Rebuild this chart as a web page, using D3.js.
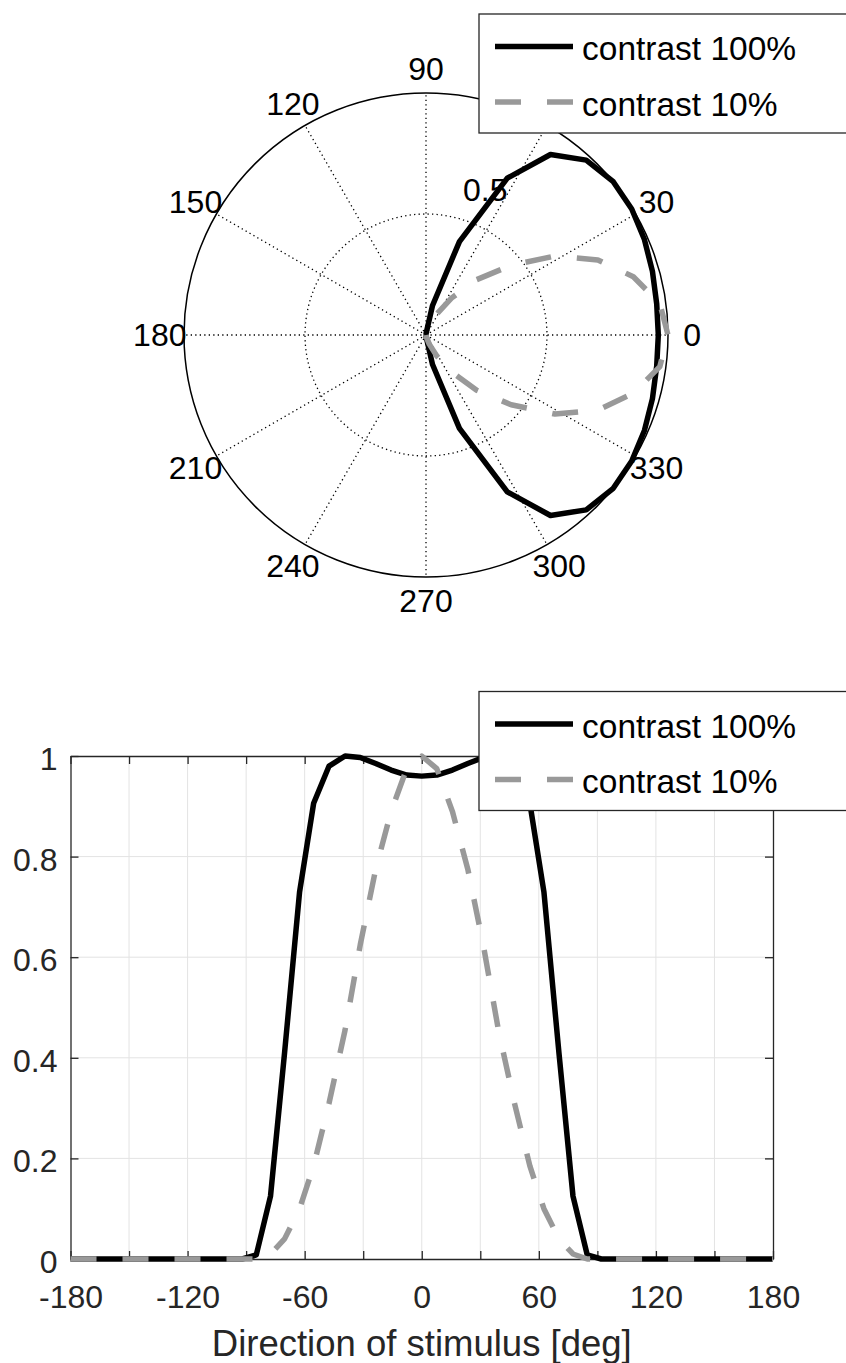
<!DOCTYPE html>
<html lang="en">
<head>
    <meta charset="UTF-8">
    <title>Direction tuning</title>
    <script src="https://d3js.org/d3.v7.min.js"></script>
    <style>
        body {
            margin: 0;
            background: #fff;
            font-family: "Liberation Sans", Arial, sans-serif;
        }

        .spoke, .ring {
            fill: none;
            stroke: #000;
            stroke-width: 1.3px;
            stroke-dasharray: 1.3, 3.2;
        }

        .outer-ring {
            fill: none;
            stroke: #000;
            stroke-width: 1.5px;
        }

        .polar-label {
            font-size: 32px;
            fill: #000;
        }

        .grid line {
            stroke: #e3e3e3;
            stroke-width: 1px;
        }

        .axis path, .axis line {
            stroke: #262626;
            stroke-width: 1.3px;
        }

        .axis text {
            font-size: 32px;
            fill: #262626;
        }

        .series {
            fill: none;
            stroke-width: 5.5px;
            stroke-linejoin: round;
        }

        .legend-box {
            fill: #fff;
            stroke: #262626;
            stroke-width: 1.3px;
        }

        .legend-text {
            font-size: 33.5px;
            fill: #000;
        }
    </style>
</head>
<body>
    <svg id="chart" width="846" height="1363"></svg>

    <script>
        // stimulus directions (deg) and normalized responses
        const angles = [-180, -92, -84.8, -77.5, -70.3, -62.6, -55.4, -47.5, -39.3, -31.5, -23.6, -15.7, -7.7, 0,
                        7.7, 15.7, 23.6, 31.5, 39.3, 47.5, 55.4, 62.6, 70.3, 77.5, 84.8, 92, 180];
        const contrast100 = [0, 0, 0.008, 0.125, 0.41, 0.73, 0.906, 0.98, 1.0, 0.997, 0.985, 0.972, 0.962, 0.96,
                             0.962, 0.972, 0.985, 0.997, 1.0, 0.98, 0.906, 0.73, 0.41, 0.125, 0.008, 0, 0];
        const contrast10 = [0, 0, 0, 0.01, 0.04, 0.1, 0.185, 0.31, 0.455, 0.625, 0.775, 0.89, 0.975, 1.0,
                            0.975, 0.89, 0.775, 0.625, 0.455, 0.31, 0.185, 0.1, 0.04, 0.01, 0, 0, 0];

        const seriesNames = ['contrast 100%', 'contrast 10%'];
        const seriesColors = ['#000000', '#999999'];
        const seriesDash = [null, '26,26'];

        const polarAngles = [0, 30, 60, 90, 120, 150, 180, 210, 240, 270, 300, 330];
        const polarRings = [0.5, 1];
        const xTicks = [-180, -150, -120, -90, -60, -30, 0, 30, 60, 90, 120, 150, 180];
        const yTicks = [0, 0.2, 0.4, 0.6, 0.8, 1];

        const series = [contrast100, contrast10].map((vals, i) => ({
            name: seriesNames[i],
            color: seriesColors[i],
            dash: seriesDash[i],
            points: angles.map((a, j) => ({ deg: a, v: vals[j] }))
        }));

        const svg = d3.select('#chart');
        const rad = Math.PI / 180;

        // ---------- polar plot ----------
        const cx = 426, cy = 335, R = 242;
        const r = d3.scaleLinear().domain([0, 1]).range([0, R]);
        const polar = svg.append('g').attr('transform', `translate(${cx},${cy})`);

        polar.selectAll('.spoke')
            .data(polarAngles)
            .enter().append('line')
            .attr('class', 'spoke')
            .attr('x1', 0).attr('y1', 0)
            .attr('x2', d => r(1) * Math.cos(d * rad))
            .attr('y2', d => -r(1) * Math.sin(d * rad));

        polar.selectAll('.ring')
            .data(polarRings)
            .enter().append('circle')
            .attr('class', d => d === 1 ? 'outer-ring' : 'ring')
            .attr('r', d => r(d));

        polar.selectAll('.polar-label')
            .data(polarAngles)
            .enter().append('text')
            .attr('class', 'polar-label')
            .attr('x', d => r(1.1) * Math.cos(d * rad))
            .attr('y', d => -r(1.1) * Math.sin(d * rad))
            .attr('text-anchor', 'middle')
            .attr('dominant-baseline', 'central')
            .text(d => d);

        // radial tick label
        polar.append('text')
            .attr('class', 'polar-label')
            .attr('x', r(0.576) * Math.cos(74.6 * rad))
            .attr('y', -r(0.576) * Math.sin(74.6 * rad))
            .text('0.5');

        const radial = d3.lineRadial()
            .angle(d => (90 - d.deg) * rad)
            .radius(d => r(d.v));

        polar.selectAll('.series')
            .data(series)
            .enter().append('path')
            .attr('class', 'series')
            .attr('stroke', d => d.color)
            .attr('stroke-dasharray', d => d.dash)
            .attr('d', d => radial(d.points));

        // ---------- cartesian plot ----------
        const x = d3.scaleLinear().domain([-180, 180]).range([70.5, 773]);
        const y = d3.scaleLinear().domain([0, 1]).range([1259, 756]);

        const grid = svg.append('g').attr('class', 'grid');
        grid.selectAll('.vx')
            .data(xTicks.slice(1, -1))
            .enter().append('line')
            .attr('x1', d => x(d)).attr('x2', d => x(d))
            .attr('y1', y(0)).attr('y2', y(1));
        grid.selectAll('.hy')
            .data(yTicks.slice(1, -1))
            .enter().append('line')
            .attr('x1', x(-180)).attr('x2', x(180))
            .attr('y1', d => y(d)).attr('y2', d => y(d));

        const xLabel = d => (d % 60 === 0 ? d : '');

        svg.append('g')
            .attr('class', 'axis')
            .attr('transform', `translate(0,${y(0)})`)
            .call(d3.axisBottom(x).tickValues(xTicks).tickSize(-8).tickSizeOuter(0).tickPadding(26).tickFormat(xLabel))
            .call(g => g.selectAll('text').attr('dy', '0.71em'));

        svg.append('g')
            .attr('class', 'axis')
            .attr('transform', `translate(0,${y(1)})`)
            .call(d3.axisTop(x).tickValues(xTicks).tickSize(-8).tickSizeOuter(0).tickFormat(''));

        svg.append('g')
            .attr('class', 'axis')
            .attr('transform', `translate(${x(-180)},0)`)
            .call(d3.axisLeft(y).tickValues(yTicks).tickSize(-8).tickSizeOuter(0).tickPadding(13).tickFormat(d3.format('')))
            .call(g => g.selectAll('text').attr('dy', '0.42em'));

        svg.append('g')
            .attr('class', 'axis')
            .attr('transform', `translate(${x(180)},0)`)
            .call(d3.axisRight(y).tickValues(yTicks).tickSize(-8).tickSizeOuter(0).tickFormat(''));

        svg.append('text')
            .attr('x', (x(-180) + x(180)) / 2)
            .attr('y', 1355.5)
            .attr('text-anchor', 'middle')
            .attr('font-size', '36.5px')
            .attr('fill', '#262626')
            .text('Direction of stimulus [deg]');

        const line = d3.line()
            .x(d => x(d.deg))
            .y(d => y(d.v));

        svg.selectAll('.series-xy')
            .data(series)
            .enter().append('path')
            .attr('class', 'series')
            .attr('stroke', d => d.color)
            .attr('stroke-dasharray', d => d.dash)
            .attr('d', d => line(d.points));

        // ---------- legends ----------
        function drawLegend(top) {
            const g = svg.append('g').attr('transform', `translate(479,${top})`);
            g.append('rect')
                .attr('class', 'legend-box')
                .attr('width', 400)
                .attr('height', 119);
            const rows = g.selectAll('.row')
                .data(series)
                .enter().append('g')
                .attr('transform', (d, i) => `translate(0,${32.5 + i * 55.5})`);
            rows.append('line')
                .attr('class', 'series')
                .attr('x1', 16).attr('x2', 94)
                .attr('stroke', d => d.color)
                .attr('stroke-dasharray', d => d.dash);
            rows.append('text')
                .attr('class', 'legend-text')
                .attr('x', 103)
                .attr('y', 13.5)
                .text(d => d.name);
        }

        drawLegend(14);
        drawLegend(691.5);
    </script>
</body>
</html>
